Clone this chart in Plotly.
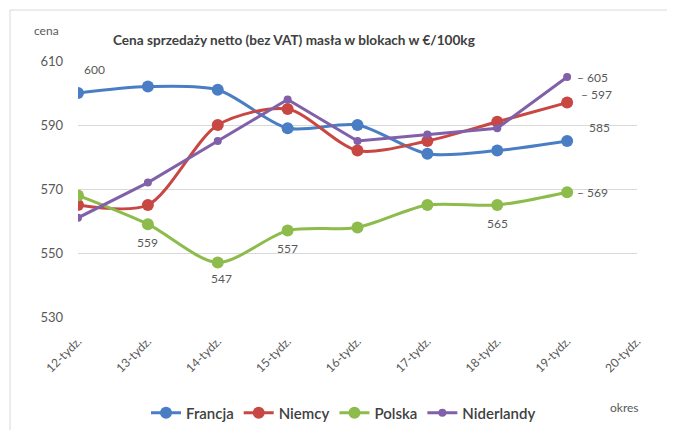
import plotly.graph_objects as go

weeks = ["12-tydz.", "13-tydz.", "14-tydz.", "15-tydz.", "16-tydz.", "17-tydz.", "18-tydz.", "19-tydz.", "20-tydz."]
francja = [600, 602, 601, 589, 590, 581, 582, 585]
niemcy = [565, 565, 590, 595, 582, 585, 591, 597]
polska = [568, 559, 547, 557, 558, 565, 565, 569]
niderlandy = [561, 572, 585, 598, 585, 587, 589, 605]
y_ticks = [530, 550, 570, 590, 610]

series = [
    ("Francja", francja, "#4a7ec4", 12, "spline"),
    ("Niemcy", niemcy, "#c84743", 12, "spline"),
    ("Polska", polska, "#8dbb4c", 12, "spline"),
    ("Niderlandy", niderlandy, "#8060a8", 8, "linear"),
]

FONT = "Lato, Noto Sans, sans-serif"
fig = go.Figure()
for name, vals, col, ms, shape in series:
    fig.add_trace(go.Scatter(
        x=weeks[:len(vals)], y=vals, name=name, mode="lines+markers",
        line=dict(color=col, width=3, shape=shape, smoothing=0.8),
        marker=dict(color=col, size=ms),
    ))

# data labels (index, series values, xshift, yshift, xanchor, leader)
labels = [
    (0, francja, 4, 24, "left", False),
    (7, francja, 20, 14, "left", False),
    (7, niemcy, 12, 8, "left", True),
    (1, polska, 0, -18, "center", False),
    (2, polska, 4, -16, "center", False),
    (3, polska, 0, -18, "center", False),
    (6, polska, 0, -18, "center", False),
    (7, polska, 8, 0, "left", True),
    (7, niderlandy, 8, 0, "left", True),
]
for i, vals, xs, ys, xa, lead in labels:
    txt = ("– " if lead else "") + str(vals[i])
    fig.add_annotation(x=weeks[i], y=vals[i], text=txt, showarrow=False,
                       xshift=xs, yshift=ys, xanchor=xa,
                       font=dict(family=FONT, size=12, color="#595959"))

fig.add_annotation(xref="paper", yref="paper", x=-0.082, y=1.121, text="cena",
                   showarrow=False, xanchor="left", yanchor="middle",
                   font=dict(family=FONT, size=12, color="#595959"))
fig.add_annotation(xref="paper", yref="paper", x=0.978, y=-0.352, text="okres",
                   showarrow=False, xanchor="center", yanchor="middle",
                   font=dict(family=FONT, size=12, color="#595959"))

border = dict(color="#d9d9d9", width=1)
fig.add_shape(type="line", xref="paper", yref="paper", x0=-0.1216, x1=1.1, y0=1.199, y1=1.199, line=border)
fig.add_shape(type="line", xref="paper", yref="paper", x0=-0.1216, x1=-0.1216, y0=-0.5, y1=1.199, line=border)
fig.add_shape(type="line", xref="paper", yref="paper", x0=1.077, x1=1.077, y0=-0.5, y1=1.199,
              line=dict(color="#ececec", width=1))

fig.update_layout(
    width=667, height=422,
    margin=dict(l=70, r=38, t=53, b=113, autoexpand=False),
    paper_bgcolor="white", plot_bgcolor="white",
    title=dict(text="<b>Cena sprzedaży netto (bez VAT) masła w blokach w €/100kg</b>",
               x=0.0626, xref="paper", xanchor="left", y=0.924, yanchor="middle",
               font=dict(family=FONT, size=13.6, color="#404040")),
    font=dict(family=FONT, color="#595959"),
    xaxis=dict(type="category", categoryorder="array", categoryarray=weeks,
               range=[0, 8], tickangle=-45, showgrid=False, showline=False, automargin=False,
               ticks="", ticklabelstandoff=14, tickfont=dict(size=12, color="#595959")),
    yaxis=dict(range=[530, 610], tickvals=y_ticks, showgrid=True, gridcolor="#d9d9d9",
               zeroline=False, showline=False, ticks="", ticklabelstandoff=14, automargin=False,
               tickfont=dict(size=13, color="#595959")),
    legend=dict(orientation="h", x=0.475, xanchor="center", y=-0.375, yanchor="middle",
                font=dict(family=FONT, size=15, color="#404040", weight=600), itemwidth=30),
    showlegend=True,
)
fig.write_html("out.html")
